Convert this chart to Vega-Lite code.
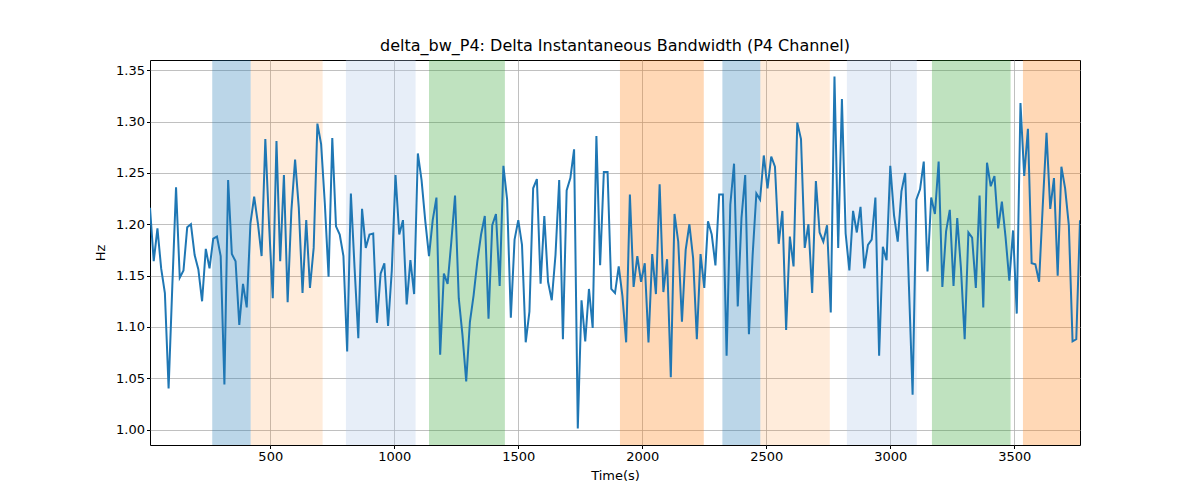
{
  "$schema": "https://vega.github.io/schema/vega-lite/v6.json",
  "width": 930,
  "height": 385,
  "autosize": "none",
  "padding": {"left": 150, "top": 60, "right": 120, "bottom": 55},
  "background": "white",
  "config": {
    "font": "DejaVu Sans",
    "view": {"stroke": "black", "strokeWidth": 1},
    "axis": {
      "grid": true,
      "gridColor": "#b0b0b0",
      "gridWidth": 0.8,
      "domain": false,
      "tickColor": "black",
      "tickSize": 3.5,
      "labelFontSize": 13,
      "labelColor": "black",
      "titleFontSize": 13,
      "titleFontWeight": "normal",
      "titleColor": "black"
    },
    "title": {"fontSize": 16, "fontWeight": "normal", "color": "black"}
  },
  "title": {"text": "delta_bw_P4: Delta Instantaneous Bandwidth (P4 Channel)", "offset": 6},
  "datasets": {
    "bands": [
      {"start": 266, "end": 421, "kind": "a"},
      {"start": 421, "end": 711, "kind": "b"},
      {"start": 805, "end": 1086, "kind": "c"},
      {"start": 1140, "end": 1446, "kind": "d"},
      {"start": 1910, "end": 2248, "kind": "e"},
      {"start": 2323, "end": 2476, "kind": "a"},
      {"start": 2476, "end": 2756, "kind": "b"},
      {"start": 2825, "end": 3107, "kind": "c"},
      {"start": 3168, "end": 3485, "kind": "d"},
      {"start": 3535, "end": 3765, "kind": "e"}
    ],
    "series": [
      {"t": 15, "v": 1.216}, {"t": 30, "v": 1.164}, {"t": 45, "v": 1.196}, {"t": 60, "v": 1.157},
      {"t": 75, "v": 1.133}, {"t": 90, "v": 1.040}, {"t": 105, "v": 1.140}, {"t": 120, "v": 1.236},
      {"t": 135, "v": 1.148}, {"t": 150, "v": 1.155}, {"t": 165, "v": 1.197}, {"t": 180, "v": 1.200},
      {"t": 195, "v": 1.170}, {"t": 210, "v": 1.156}, {"t": 225, "v": 1.125}, {"t": 240, "v": 1.176},
      {"t": 255, "v": 1.157}, {"t": 270, "v": 1.186}, {"t": 285, "v": 1.188}, {"t": 300, "v": 1.169},
      {"t": 315, "v": 1.044}, {"t": 330, "v": 1.243}, {"t": 345, "v": 1.171}, {"t": 360, "v": 1.164},
      {"t": 375, "v": 1.102}, {"t": 390, "v": 1.142}, {"t": 405, "v": 1.119}, {"t": 420, "v": 1.201},
      {"t": 435, "v": 1.227}, {"t": 450, "v": 1.201}, {"t": 465, "v": 1.169}, {"t": 480, "v": 1.283},
      {"t": 495, "v": 1.200}, {"t": 510, "v": 1.128}, {"t": 525, "v": 1.281}, {"t": 540, "v": 1.164},
      {"t": 555, "v": 1.248}, {"t": 570, "v": 1.124}, {"t": 585, "v": 1.213}, {"t": 600, "v": 1.263},
      {"t": 615, "v": 1.216}, {"t": 630, "v": 1.133}, {"t": 645, "v": 1.204}, {"t": 660, "v": 1.138},
      {"t": 675, "v": 1.177}, {"t": 690, "v": 1.298}, {"t": 705, "v": 1.278}, {"t": 720, "v": 1.220},
      {"t": 735, "v": 1.149}, {"t": 750, "v": 1.284}, {"t": 765, "v": 1.198}, {"t": 780, "v": 1.190},
      {"t": 795, "v": 1.169}, {"t": 810, "v": 1.076}, {"t": 825, "v": 1.230}, {"t": 840, "v": 1.157},
      {"t": 855, "v": 1.089}, {"t": 870, "v": 1.215}, {"t": 885, "v": 1.177}, {"t": 900, "v": 1.190},
      {"t": 915, "v": 1.191}, {"t": 930, "v": 1.104}, {"t": 945, "v": 1.152}, {"t": 960, "v": 1.162},
      {"t": 975, "v": 1.101}, {"t": 990, "v": 1.155}, {"t": 1005, "v": 1.248}, {"t": 1020, "v": 1.190},
      {"t": 1035, "v": 1.204}, {"t": 1050, "v": 1.122}, {"t": 1065, "v": 1.165}, {"t": 1080, "v": 1.132},
      {"t": 1095, "v": 1.269}, {"t": 1110, "v": 1.243}, {"t": 1125, "v": 1.203}, {"t": 1140, "v": 1.169},
      {"t": 1155, "v": 1.204}, {"t": 1170, "v": 1.226}, {"t": 1185, "v": 1.073}, {"t": 1200, "v": 1.152},
      {"t": 1215, "v": 1.142}, {"t": 1230, "v": 1.183}, {"t": 1245, "v": 1.228}, {"t": 1260, "v": 1.128},
      {"t": 1275, "v": 1.092}, {"t": 1290, "v": 1.047}, {"t": 1305, "v": 1.105}, {"t": 1320, "v": 1.131},
      {"t": 1335, "v": 1.164}, {"t": 1350, "v": 1.190}, {"t": 1365, "v": 1.208}, {"t": 1380, "v": 1.108},
      {"t": 1395, "v": 1.199}, {"t": 1410, "v": 1.210}, {"t": 1425, "v": 1.140}, {"t": 1440, "v": 1.257},
      {"t": 1455, "v": 1.224}, {"t": 1470, "v": 1.109}, {"t": 1485, "v": 1.185}, {"t": 1500, "v": 1.204},
      {"t": 1515, "v": 1.180}, {"t": 1530, "v": 1.085}, {"t": 1545, "v": 1.115}, {"t": 1560, "v": 1.235},
      {"t": 1575, "v": 1.244}, {"t": 1590, "v": 1.142}, {"t": 1605, "v": 1.208}, {"t": 1620, "v": 1.144},
      {"t": 1635, "v": 1.126}, {"t": 1650, "v": 1.170}, {"t": 1665, "v": 1.243}, {"t": 1680, "v": 1.088},
      {"t": 1695, "v": 1.233}, {"t": 1710, "v": 1.245}, {"t": 1725, "v": 1.273}, {"t": 1740, "v": 1.001},
      {"t": 1755, "v": 1.126}, {"t": 1770, "v": 1.086}, {"t": 1785, "v": 1.137}, {"t": 1800, "v": 1.099},
      {"t": 1815, "v": 1.286}, {"t": 1830, "v": 1.160}, {"t": 1845, "v": 1.251}, {"t": 1860, "v": 1.251},
      {"t": 1875, "v": 1.137}, {"t": 1890, "v": 1.133}, {"t": 1905, "v": 1.159}, {"t": 1920, "v": 1.130},
      {"t": 1935, "v": 1.085}, {"t": 1950, "v": 1.229}, {"t": 1965, "v": 1.139}, {"t": 1980, "v": 1.169},
      {"t": 1995, "v": 1.144}, {"t": 2010, "v": 1.162}, {"t": 2025, "v": 1.085}, {"t": 2040, "v": 1.171},
      {"t": 2055, "v": 1.132}, {"t": 2070, "v": 1.239}, {"t": 2085, "v": 1.134}, {"t": 2100, "v": 1.166},
      {"t": 2115, "v": 1.051}, {"t": 2130, "v": 1.210}, {"t": 2145, "v": 1.183}, {"t": 2160, "v": 1.105},
      {"t": 2175, "v": 1.175}, {"t": 2190, "v": 1.200}, {"t": 2205, "v": 1.167}, {"t": 2220, "v": 1.088},
      {"t": 2235, "v": 1.171}, {"t": 2250, "v": 1.138}, {"t": 2265, "v": 1.203}, {"t": 2280, "v": 1.190},
      {"t": 2295, "v": 1.160}, {"t": 2310, "v": 1.229}, {"t": 2325, "v": 1.229}, {"t": 2340, "v": 1.072},
      {"t": 2355, "v": 1.219}, {"t": 2370, "v": 1.259}, {"t": 2385, "v": 1.120}, {"t": 2400, "v": 1.206},
      {"t": 2415, "v": 1.248}, {"t": 2430, "v": 1.093}, {"t": 2445, "v": 1.170}, {"t": 2460, "v": 1.230},
      {"t": 2475, "v": 1.224}, {"t": 2490, "v": 1.267}, {"t": 2505, "v": 1.235}, {"t": 2520, "v": 1.266},
      {"t": 2535, "v": 1.256}, {"t": 2550, "v": 1.181}, {"t": 2565, "v": 1.213}, {"t": 2580, "v": 1.097},
      {"t": 2595, "v": 1.188}, {"t": 2610, "v": 1.159}, {"t": 2625, "v": 1.299}, {"t": 2640, "v": 1.283},
      {"t": 2655, "v": 1.177}, {"t": 2670, "v": 1.200}, {"t": 2685, "v": 1.133}, {"t": 2700, "v": 1.242},
      {"t": 2715, "v": 1.192}, {"t": 2730, "v": 1.183}, {"t": 2745, "v": 1.199}, {"t": 2760, "v": 1.114},
      {"t": 2775, "v": 1.344}, {"t": 2790, "v": 1.177}, {"t": 2805, "v": 1.322}, {"t": 2820, "v": 1.191},
      {"t": 2835, "v": 1.155}, {"t": 2850, "v": 1.213}, {"t": 2865, "v": 1.192}, {"t": 2880, "v": 1.217},
      {"t": 2895, "v": 1.157}, {"t": 2910, "v": 1.180}, {"t": 2925, "v": 1.185}, {"t": 2940, "v": 1.226},
      {"t": 2955, "v": 1.072}, {"t": 2970, "v": 1.178}, {"t": 2985, "v": 1.165}, {"t": 3000, "v": 1.257},
      {"t": 3015, "v": 1.209}, {"t": 3030, "v": 1.183}, {"t": 3045, "v": 1.232}, {"t": 3060, "v": 1.250},
      {"t": 3075, "v": 1.141}, {"t": 3090, "v": 1.034}, {"t": 3105, "v": 1.224}, {"t": 3120, "v": 1.234},
      {"t": 3135, "v": 1.261}, {"t": 3150, "v": 1.154}, {"t": 3165, "v": 1.226}, {"t": 3180, "v": 1.210},
      {"t": 3195, "v": 1.261}, {"t": 3210, "v": 1.139}, {"t": 3225, "v": 1.193}, {"t": 3240, "v": 1.214},
      {"t": 3255, "v": 1.140}, {"t": 3270, "v": 1.206}, {"t": 3285, "v": 1.157}, {"t": 3300, "v": 1.088},
      {"t": 3315, "v": 1.192}, {"t": 3330, "v": 1.187}, {"t": 3345, "v": 1.138}, {"t": 3360, "v": 1.228},
      {"t": 3375, "v": 1.119}, {"t": 3390, "v": 1.260}, {"t": 3405, "v": 1.237}, {"t": 3420, "v": 1.247},
      {"t": 3435, "v": 1.196}, {"t": 3450, "v": 1.222}, {"t": 3465, "v": 1.187}, {"t": 3480, "v": 1.145},
      {"t": 3495, "v": 1.194}, {"t": 3510, "v": 1.113}, {"t": 3525, "v": 1.318}, {"t": 3540, "v": 1.247},
      {"t": 3555, "v": 1.293}, {"t": 3570, "v": 1.162}, {"t": 3585, "v": 1.161}, {"t": 3600, "v": 1.144},
      {"t": 3615, "v": 1.219}, {"t": 3630, "v": 1.289}, {"t": 3645, "v": 1.215}, {"t": 3660, "v": 1.245},
      {"t": 3675, "v": 1.150}, {"t": 3690, "v": 1.256}, {"t": 3705, "v": 1.235}, {"t": 3720, "v": 1.199},
      {"t": 3735, "v": 1.086}, {"t": 3750, "v": 1.088}, {"t": 3765, "v": 1.204}
    ]
  },
  "layer": [
    {
      "data": {"name": "bands"},
      "transform": [{"filter": "datum.kind != 'b'"}],
      "mark": {"type": "rect", "clip": true, "opacity": 0.3},
      "encoding": {
        "x": {
          "field": "start",
          "type": "quantitative",
          "scale": {"domain": [15, 3765], "nice": false, "zero": false},
          "axis": {"title": "Time(s)", "values": [500, 1000, 1500, 2000, 2500, 3000, 3500], "format": "d", "titlePadding": 6}
        },
        "x2": {"field": "end"},
        "color": {
          "field": "kind",
          "type": "nominal",
          "scale": {"domain": ["a", "b", "c", "d", "e"], "range": ["#1f77b4", "#ff7f0e", "#aec7e8", "#2ca02c", "#ff7f0e"]},
          "legend": null
        }
      }
    },
    {
      "data": {"name": "bands"},
      "transform": [{"filter": "datum.kind == 'b'"}],
      "mark": {"type": "rect", "clip": true, "opacity": 0.15},
      "encoding": {
        "x": {"field": "start", "type": "quantitative"},
        "x2": {"field": "end"},
        "color": {"field": "kind", "type": "nominal", "legend": null}
      }
    },
    {
      "data": {"name": "series"},
      "mark": {"type": "line", "color": "#1f77b4", "strokeWidth": 2, "clip": true},
      "encoding": {
        "x": {"field": "t", "type": "quantitative"},
        "y": {
          "field": "v",
          "type": "quantitative",
          "scale": {"domain": [0.985, 1.36], "nice": false, "zero": false},
          "axis": {"title": "Hz", "values": [1.0, 1.05, 1.1, 1.15, 1.2, 1.25, 1.3, 1.35], "format": ".2f", "titlePadding": 8}
        }
      }
    }
  ]
}
